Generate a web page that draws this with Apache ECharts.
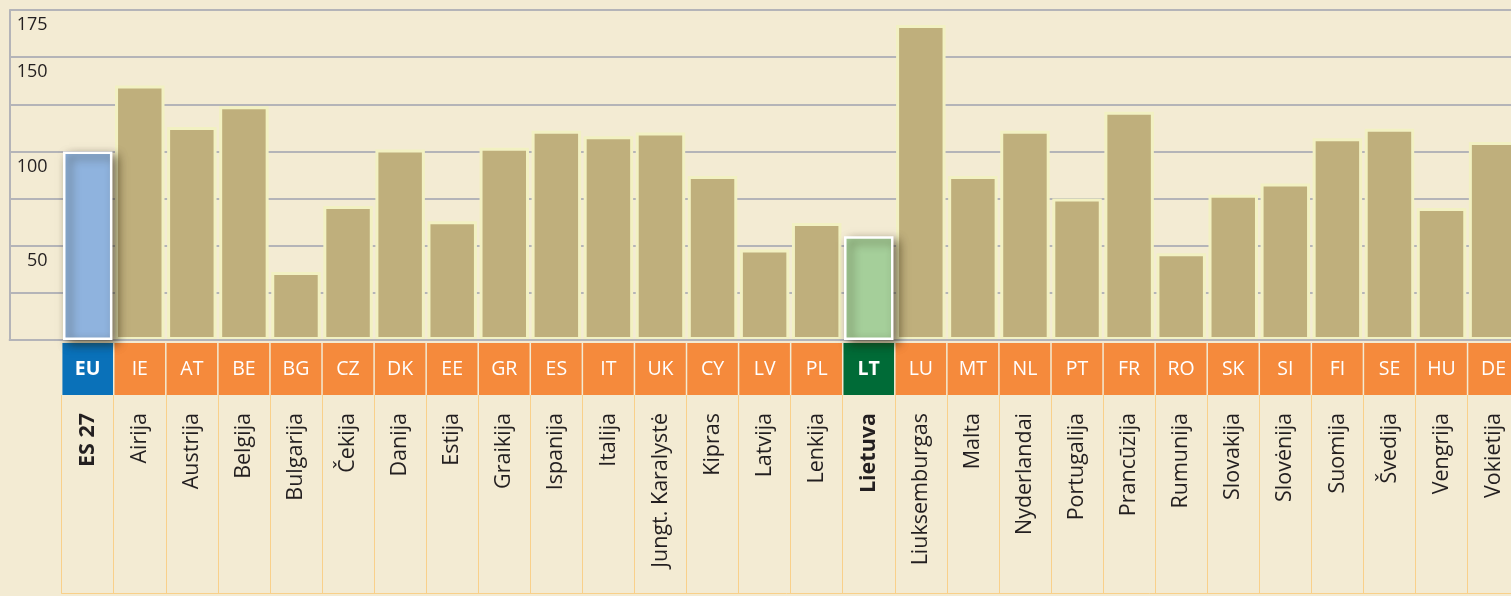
<!DOCTYPE html>
<html>
<head>
<meta charset="utf-8">
<script src="https://cdn.jsdelivr.net/npm/echarts@6/dist/echarts.min.js"></script>
<style>
  html, body { margin: 0; padding: 0; background: #f3ebd3; }
  #chart { width: 1511px; height: 596px; }
</style>
</head>
<body>
<div id="chart"></div>
<script>
// ---- data ----
const codes = ['EU','IE','AT','BE','BG','CZ','DK','EE','GR','ES','IT','UK','CY','LV','PL','LT','LU','MT','NL','PT','FR','RO','SK','SI','FI','SE','HU','DE'];
const names = ['ES 27','Airija','Austrija','Belgija','Bulgarija','Čekija','Danija','Estija','Graikija','Ispanija','Italija','Jungt. Karalystė','Kipras','Latvija','Lenkija','Lietuva','Liuksemburgas','Malta','Nyderlandai','Portugalija','Prancūzija','Rumunija','Slovakija','Slovėnija','Suomija','Švedija','Vengrija','Vokietija'];
const values = [100,135,113,124,36,71,101,63,102,111,108,110,87,48,62,55,167,87,111,75,121,46,77,83,107,112,70,105];
const yLabelled = [50,100,150,175];
const highlightCodes = { EU: '#8fb3de', LT: '#a5cf9a' };
const boldNames = ['ES 27', 'Lietuva'];

// ---- build ----
const FONT = 'Open Sans';
const cats = [''].concat(codes);
const nameCats = [''].concat(names);
const mainData = [null].concat(values.map((v, i) => highlightCodes[codes[i]] ? null : v));
const hiData = [null].concat(values.map((v, i) => highlightCodes[codes[i]] ? {
  value: v,
  itemStyle: { color: highlightCodes[codes[i]] }
} : null));

const chart = echarts.init(document.getElementById('chart'), null, { renderer: 'canvas' });
const colW = 52.07;
chart.setOption({
  backgroundColor: '#f3ebd3',
  animation: false,
  grid: [
    { left: 9.6, top: 10, width: colW * 29, height: 330, outerBoundsMode: 'none', containLabel: false },
    { left: 9.6 + colW, top: 395, width: colW * 28, height: 198.5, outerBoundsMode: 'none', containLabel: false }
  ],
  xAxis: [
    {
      gridIndex: 0, type: 'category', data: cats, z: 3,
      axisLine: { show: true, lineStyle: { color: '#b4b4b8', width: 2 } },
      axisTick: { show: false },
      splitLine: { show: false },
      axisLabel: {
        interval: 0, margin: 3,
        formatter: v => v === '' ? '' : (v === 'EU' ? '{eu|EU}' : v === 'LT' ? '{lt|LT}' : '{c|' + v + '}'),
        rich: {
          c: { width: colW - 1.5, height: 52, lineHeight: 52, align: 'center', backgroundColor: '#f58a3c', color: '#ffffff', fontSize: 19.5, fontFamily: FONT },
          eu: { width: colW - 1.5, height: 52, lineHeight: 52, align: 'center', backgroundColor: '#0a71b9', color: '#ffffff', fontSize: 19.5, fontWeight: 'bold', fontFamily: FONT },
          lt: { width: colW - 1.5, height: 52, lineHeight: 52, align: 'center', backgroundColor: '#006b37', color: '#ffffff', fontSize: 19.5, fontWeight: 'bold', fontFamily: FONT }
        }
      }
    },
    {
      gridIndex: 0, type: 'category', data: nameCats, position: 'bottom', z: 3,
      axisLine: { show: false }, axisTick: { show: false }, splitLine: { show: false },
      axisLabel: {
        interval: 0, rotate: 90, margin: 73,
        color: '#231f20', fontSize: 21.5, fontFamily: FONT,
        formatter: v => boldNames.includes(v) ? '{b|' + v + '}' : v,
        rich: { b: { fontWeight: 'bold', fontSize: 21.5, fontFamily: FONT, color: '#231f20' } }
      }
    },
    {
      gridIndex: 1, type: 'category', data: codes, position: 'bottom',
      axisLine: { show: true, lineStyle: { color: '#f9d08a', width: 1 } },
      axisTick: { show: false }, axisLabel: { show: false },
      splitLine: { show: true, interval: 0, lineStyle: { color: '#f9d08a', width: 1 } }
    }
  ],
  yAxis: [
    {
      gridIndex: 0, type: 'value', min: 0, max: 175, interval: 25,
      axisLine: { show: true, lineStyle: { color: '#b4b4b8', width: 2 } },
      axisTick: { show: false },
      splitLine: { show: true, lineStyle: { color: '#b4b4b8', width: 2 } },
      axisLabel: {
        inside: true, margin: 38, align: 'right', verticalAlign: 'top', padding: [6, 0, 0, 0],
        color: '#231f20', fontSize: 18, fontFamily: FONT,
        formatter: v => yLabelled.includes(v) ? String(v) : ''
      }
    },
    { gridIndex: 1, type: 'value', show: false }
  ],
  series: [
    {
      type: 'bar', xAxisIndex: 0, yAxisIndex: 0, data: mainData, z: 2,
      barCategoryGap: '5%', barGap: '-100%',
      itemStyle: { color: '#bfaf7c', borderColor: '#f2f1c2', borderWidth: 3 }
    },
    {
      type: 'bar', xAxisIndex: 0, yAxisIndex: 0, data: hiData, z: 4,
      barCategoryGap: '5%', barGap: '-100%',
      itemStyle: {
        borderColor: '#ffffff', borderWidth: 2.5,
        shadowBlur: 10, shadowOffsetX: 5, shadowOffsetY: 4, shadowColor: 'rgba(40,30,0,0.6)'
      }
    }
  ]
});
</script>
</body>
</html>
